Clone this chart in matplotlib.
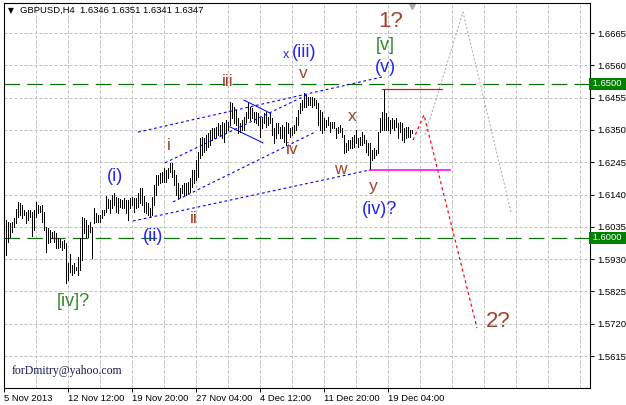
import numpy as np
import matplotlib
matplotlib.use('Agg')
import matplotlib.pyplot as plt
import matplotlib.transforms as mtransforms

# GBPUSD H4 bars, highs / lows
highs = [1.6057, 1.6051, 1.6047, 1.6051, 1.6064, 1.6093, 1.6116, 1.6113, 1.6106, 1.6090,
         1.6083, 1.6090, 1.6090, 1.6083, 1.6090, 1.6116, 1.6106, 1.6103, 1.6106, 1.6083,
         1.6034, 1.6031, 1.6025, 1.6018, 1.6022, 1.6015, 1.5999, 1.5995, 1.5989, 1.5992,
         1.5982, 1.5918, 1.5947, 1.5911, 1.5918, 1.5905, 1.5937, 1.5999, 1.6067, 1.6064,
         1.6057, 1.6041, 1.6051, 1.6034, 1.6096, 1.6080, 1.6073, 1.6073, 1.6090, 1.6090,
         1.6135, 1.6126, 1.6122, 1.6139, 1.6145, 1.6132, 1.6129, 1.6126, 1.6122, 1.6129,
         1.6122, 1.6122, 1.6129, 1.6132, 1.6129, 1.6129, 1.6145, 1.6162, 1.6162, 1.6135,
         1.6116, 1.6113, 1.6096, 1.6132, 1.6171, 1.6204, 1.6204, 1.6210, 1.6213, 1.6226,
         1.6220, 1.6226, 1.6243, 1.6243, 1.6220, 1.6204, 1.6178, 1.6162, 1.6171, 1.6178,
         1.6178, 1.6181, 1.6194, 1.6220, 1.6220, 1.6252, 1.6278, 1.6324, 1.6327, 1.6324,
         1.6334, 1.6340, 1.6350, 1.6356, 1.6356, 1.6360, 1.6373, 1.6366, 1.6376, 1.6373,
         1.6382, 1.6376, 1.6441, 1.6438, 1.6425, 1.6415, 1.6389, 1.6373, 1.6382, 1.6392,
         1.6408, 1.6438, 1.6425, 1.6421, 1.6408, 1.6408, 1.6405, 1.6392, 1.6392, 1.6405,
         1.6408, 1.6392, 1.6405, 1.6389, 1.6356, 1.6373, 1.6373, 1.6360, 1.6366, 1.6360,
         1.6376, 1.6373, 1.6356, 1.6360, 1.6366, 1.6392, 1.6415, 1.6438, 1.6447, 1.6470,
         1.6464, 1.6457, 1.6457, 1.6457, 1.6454, 1.6447, 1.6438, 1.6415, 1.6408, 1.6389,
         1.6382, 1.6392, 1.6376, 1.6376, 1.6376, 1.6356, 1.6360, 1.6366, 1.6356, 1.6334,
         1.6308, 1.6317, 1.6317, 1.6327, 1.6334, 1.6350, 1.6324, 1.6327, 1.6343, 1.6334,
         1.6317, 1.6308, 1.6308, 1.6285, 1.6291, 1.6285, 1.6343, 1.6389, 1.6408, 1.6483,
         1.6405, 1.6392, 1.6382, 1.6389, 1.6382, 1.6389, 1.6373, 1.6376, 1.6373, 1.6356,
         1.6360, 1.6360, 1.6350, 1.6351]
lows = [1.5944, 1.5986, 1.6002, 1.6018, 1.6034, 1.6047, 1.6067, 1.6073, 1.6064, 1.6073,
        1.6047, 1.6057, 1.6067, 1.6005, 1.6025, 1.6067, 1.6080, 1.6083, 1.6051, 1.6025,
        1.5953, 1.5982, 1.5986, 1.5999, 1.5986, 1.5966, 1.5966, 1.5969, 1.5960, 1.5966,
        1.5852, 1.5862, 1.5888, 1.5879, 1.5885, 1.5895, 1.5879, 1.5895, 1.5927, 1.6015,
        1.6002, 1.6002, 1.6018, 1.5934, 1.6047, 1.6051, 1.6051, 1.6051, 1.6064, 1.6073,
        1.6083, 1.6096, 1.6080, 1.6096, 1.6106, 1.6083, 1.6080, 1.6100, 1.6096, 1.6096,
        1.6080, 1.6057, 1.6096, 1.6106, 1.6083, 1.6096, 1.6100, 1.6113, 1.6106, 1.6083,
        1.6080, 1.6073, 1.6067, 1.6073, 1.6106, 1.6139, 1.6171, 1.6178, 1.6181, 1.6181,
        1.6181, 1.6194, 1.6213, 1.6197, 1.6171, 1.6139, 1.6129, 1.6132, 1.6145, 1.6139,
        1.6139, 1.6145, 1.6148, 1.6165, 1.6178, 1.6187, 1.6197, 1.6259, 1.6269, 1.6278,
        1.6285, 1.6295, 1.6301, 1.6317, 1.6324, 1.6327, 1.6334, 1.6334, 1.6324, 1.6311,
        1.6340, 1.6350, 1.6366, 1.6389, 1.6373, 1.6366, 1.6340, 1.6343, 1.6350, 1.6350,
        1.6376, 1.6389, 1.6382, 1.6389, 1.6376, 1.6373, 1.6366, 1.6327, 1.6356, 1.6373,
        1.6360, 1.6366, 1.6373, 1.6334, 1.6308, 1.6324, 1.6340, 1.6324, 1.6324, 1.6311,
        1.6301, 1.6340, 1.6327, 1.6334, 1.6340, 1.6350, 1.6366, 1.6405, 1.6415, 1.6425,
        1.6425, 1.6431, 1.6431, 1.6425, 1.6431, 1.6421, 1.6366, 1.6350, 1.6340, 1.6350,
        1.6360, 1.6366, 1.6343, 1.6356, 1.6356, 1.6324, 1.6340, 1.6343, 1.6327, 1.6275,
        1.6278, 1.6285, 1.6291, 1.6291, 1.6295, 1.6308, 1.6295, 1.6301, 1.6301, 1.6308,
        1.6278, 1.6269, 1.6220, 1.6252, 1.6259, 1.6269, 1.6275, 1.6343, 1.6350, 1.6350,
        1.6350, 1.6350, 1.6340, 1.6356, 1.6350, 1.6360, 1.6324, 1.6343, 1.6317, 1.6311,
        1.6324, 1.6327, 1.6327, 1.6341]

price_ticks = [1.5615, 1.5720, 1.5825, 1.5930, 1.6035, 1.6140, 1.6245,
               1.6350, 1.6455, 1.6560, 1.6665]
date_pos = [0, 32, 64, 96, 128, 160, 192]
date_labels = ['5 Nov 2013', '12 Nov 12:00', '19 Nov 20:00', '27 Nov 04:00',
               '4 Dec 12:00', '11 Dec 20:00', '19 Dec 04:00']
levels = [1.6500, 1.6000]

# trend lines (bar index, price)
dotted_lines = [((64.5, 1.6054), (183, 1.6220)),
                ((67, 1.6343), (189, 1.6522)),
                ((80.5, 1.6243), (151.5, 1.6464)),
                ((84.5, 1.6116), (155.5, 1.6343))]
solid_lines = [((120, 1.6447), (133, 1.6405)),
               ((113, 1.6360), (129.5, 1.6308))]
red_path_x = [204.5, 210, 236.5]
red_path_y = [1.6317, 1.6399, 1.5706]
gray_path_x = [210.5, 229.5, 253.5]
gray_path_y = [1.6334, 1.6733, 1.6083]
red_level = (189, 219, 1.6483)
magenta_level = (183, 223, 1.6220)

# wave labels
lab_text = ['1?', '[v]', '(v)', 'x', '(iii)', 'v', 'iii', 'i', '(i)', 'ii', '(ii)',
            'iv', 'x', 'w', 'y', '(iv)?', '[iv]?', '2?']
lab_x = [193.5, 190.5, 190.5, 141, 150, 149.5, 112, 82.5, 55.5, 95, 74.5,
         144, 174, 168, 184.5, 188, 34.5, 247]
lab_y = [1.6701, 1.6623, 1.6553, 1.6594, 1.6602, 1.6535, 1.6507, 1.6301, 1.6200,
         1.6062, 1.6004, 1.6285, 1.6395, 1.6223, 1.6165, 1.6090, 1.5794, 1.5729]
BR, BL, GR = '#a3422c', '#2323f5', '#2e8b2a'
lab_col = [BR, GR, BL, BL, BL, BR, BR, BR, BL, BR, BL, BR, BR, BR, BR, BL, GR, BR]
lab_size = [16, 13, 13, 9, 13, 12.5, 12.5, 12.5, 13, 12.5, 13, 12.5, 12.5, 12.5,
            12.5, 13, 13, 16]

plt.rcParams['font.family'] = ['Liberation Sans', 'DejaVu Sans']

fig = plt.figure(figsize=(6.26, 4.05), dpi=100)
ax = fig.add_axes([4 / 626, 17 / 405, 586 / 626, 385 / 405])
ax.set_xlim(0, 293)
ax.set_ylim(1.55113, 1.67626)

px = 0.72  # one pixel in points

# grid
for gx in range(16, 293, 16):
    ax.axvline(gx, color='#c0c0c0', lw=px, ls=(0, (3, 2)), zorder=1)
for gy in price_ticks:
    ax.axhline(gy, color='#c0c0c0', lw=px, ls=(0, (3, 2)), zorder=1)

for lv in levels:
    ax.axhline(lv, color='#0a6e0a', lw=px * 1.2, ls=(0, (13, 6)), zorder=2)

xs = np.arange(1, len(highs) + 1)
ax.vlines(xs, lows, highs, colors='black', lw=px, antialiased=False, zorder=3)

for (x0, y0), (x1, y1) in dotted_lines:
    ax.plot([x0, x1], [y0, y1], color='#0000ff', lw=px * 1.1, ls=(0, (2.5, 2.5)), zorder=4)
for (x0, y0), (x1, y1) in solid_lines:
    ax.plot([x0, x1], [y0, y1], color='#0000ff', lw=px, zorder=4)

ax.plot(red_path_x, red_path_y, color='#ff0000', lw=px * 1.2, ls=(0, (2.5, 2.5)), zorder=4)
ax.plot(gray_path_x, gray_path_y, color='#a8a8a8', lw=px, ls=(0, (2, 2)), zorder=4)
ax.plot(red_level[:2], [red_level[2]] * 2, color='#ff0000', lw=px * 1.2, zorder=4)
ax.plot(magenta_level[:2], [magenta_level[2]] * 2, color='#ff00ff', lw=px * 1.6, zorder=4)

for t, x, y, c, s in zip(lab_text, lab_x, lab_y, lab_col, lab_size):
    ax.text(x, y, t, color=c, fontsize=s, ha='center', va='center', zorder=6)

ax.text(4, 1.5567, 'forDmitry@yahoo.com', family='Liberation Serif', fontsize=8.5,
        color='#1b1b50', ha='left', va='center')

# chart shift marker
ax.plot([204], [1.6753], marker='v', color='#a8a8a8', markersize=5, clip_on=False)

# axes styling
for sp in ax.spines.values():
    sp.set_color('black')
    sp.set_linewidth(px * 1.1)

ax.yaxis.tick_right()
ax.set_yticks(price_ticks)
ax.set_yticklabels(['%.4f' % p for p in price_ticks])
ax.tick_params(axis='y', direction='out', length=3, width=px, pad=2, labelsize=6.8)
ax.set_xticks(date_pos)
ax.set_xticklabels(date_labels, ha='left')
ax.tick_params(axis='x', direction='out', length=3, width=px, pad=1.5, labelsize=6.8)

lev_tr = mtransforms.blended_transform_factory(ax.transAxes, ax.transData)
for lv in levels:
    ax.text(1.0, lv, ' %.4f  ' % lv, transform=lev_tr, ha='left', va='center',
            color='white', fontsize=6.8, zorder=7,
            bbox=dict(boxstyle='square,pad=0.15', fc='#008000', ec='none'),
            clip_on=False)

fig.text(8 / 626, 1 - 10.5 / 405, '\u25bc', family='DejaVu Sans', fontsize=5.5,
         va='center', ha='left')
fig.text(20 / 626, 1 - 10.5 / 405, 'GBPUSD,H4  1.6346 1.6351 1.6341 1.6347',
         fontsize=6.8, va='center', ha='left')

fig.savefig('out.png', dpi=100)
